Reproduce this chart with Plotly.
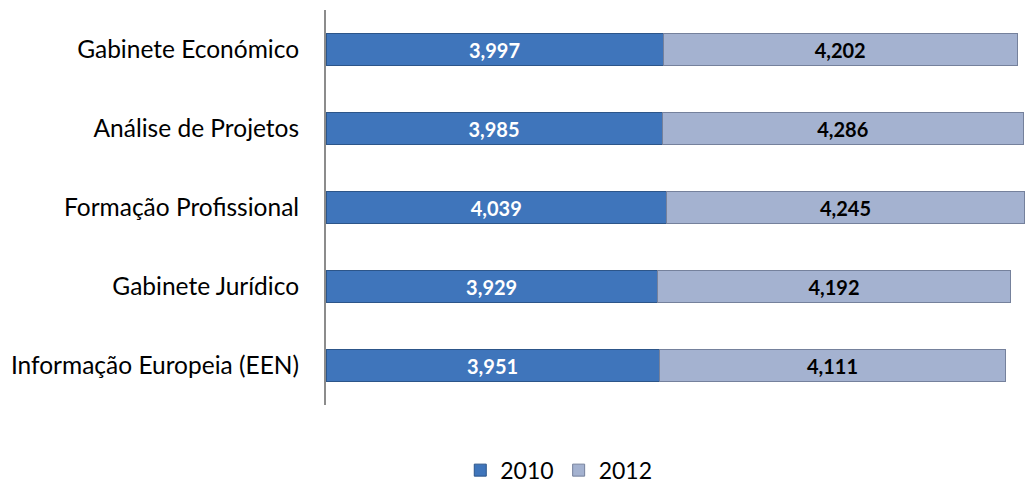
import plotly.graph_objects as go

categories = ["Gabinete Económico", "Análise de Projetos", "Formação Profissional",
              "Gabinete Jurídico", "Informação Europeia (EEN)"]
v2010 = [3.997, 3.985, 4.039, 3.929, 3.951]
v2012 = [4.202, 4.286, 4.245, 4.192, 4.111]

def fmt(v):
    return f"{v:.3f}".replace(".", ",")

FONT = "Lato"

fig = go.Figure()
fig.add_trace(go.Bar(
    y=categories, x=v2010, orientation="h", name="2010",
    marker=dict(color="#3f75bb", line=dict(color="#2c5589", width=1)),
    text=[fmt(v) for v in v2010], textposition="inside", insidetextanchor="middle",
    textfont=dict(color="white", size=20, family=FONT),
    texttemplate="<b>%{text}</b>",
))
fig.add_trace(go.Bar(
    y=categories, x=v2012, orientation="h", name="2012",
    marker=dict(color="#a4b2d0", line=dict(color="#75819c", width=1)),
    text=[fmt(v) for v in v2012], textposition="inside", insidetextanchor="middle",
    textfont=dict(color="black", size=20, family=FONT),
    texttemplate="<b>%{text}</b>",
))
fig.update_layout(
    barmode="stack", bargap=0.6,
    width=1025, height=486,
    margin=dict(l=326, r=0, t=10, b=81, autoexpand=False),
    paper_bgcolor="white", plot_bgcolor="white",
    font=dict(family=FONT, size=24, color="black"),
    showlegend=True,
    legend=dict(orientation="h", traceorder="normal", x=0.333,
                xanchor="center", y=-0.165, yanchor="middle",
                font=dict(size=23, family=FONT)),
)
fig.update_xaxes(visible=False, range=[0, 8.29], autorange=False, showgrid=False)
fig.update_yaxes(autorange="reversed", showline=True, linecolor="#8c8c8c", linewidth=2,
                 ticks="", showgrid=False, ticklabelstandoff=20,
                 tickfont=dict(size=24.5, family=FONT))
fig.write_html("out.html")
